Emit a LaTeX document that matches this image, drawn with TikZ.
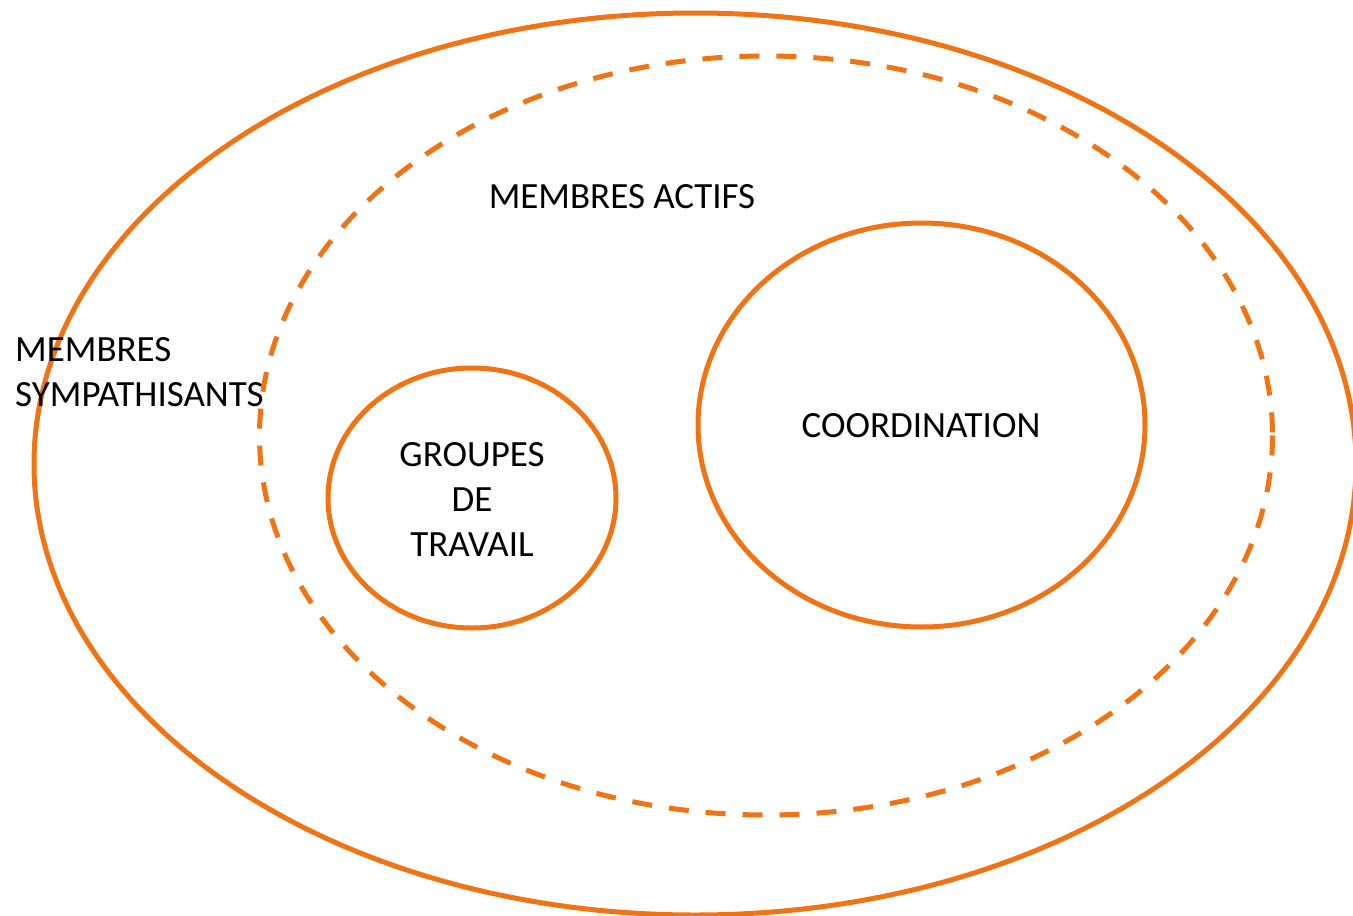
\documentclass[tikz,border=0pt]{standalone}
\usepackage{fontspec}
\setmainfont{Carlito}
\definecolor{orng}{RGB}{240,115,20}
\begin{document}
\begin{tikzpicture}[x=1pt,y=-1pt,
  ring/.style={draw=orng,line width=5pt},
  lbl/.style={font=\fontsize{37}{45}\selectfont,inner sep=0pt,align=center}]
\useasboundingbox (0,0) rectangle (1353,916);
\clip (0,0) rectangle (1353,916);
\draw[ring] (695,464) ellipse [x radius=661, y radius=451];
\draw[ring,dash pattern=on 20pt off 17pt] (766,435.5) ellipse [x radius=506.5, y radius=379.5];
\draw[ring] (472,498) ellipse [x radius=144, y radius=130];
\draw[ring] (921.5,425) ellipse [x radius=223.5, y radius=202];
\node[lbl,anchor=west,align=left] (symp) at (15,372) {MEMBRES\\SYMPATHISANTS};
\node[lbl] (actifs) at (622,197) {MEMBRES ACTIFS};
\node[lbl] (coord) at (921,426) {COORDINATION};
\node[lbl] (groupes) at (472,499) {GROUPES\\DE\\TRAVAIL};
\end{tikzpicture}
\end{document}
